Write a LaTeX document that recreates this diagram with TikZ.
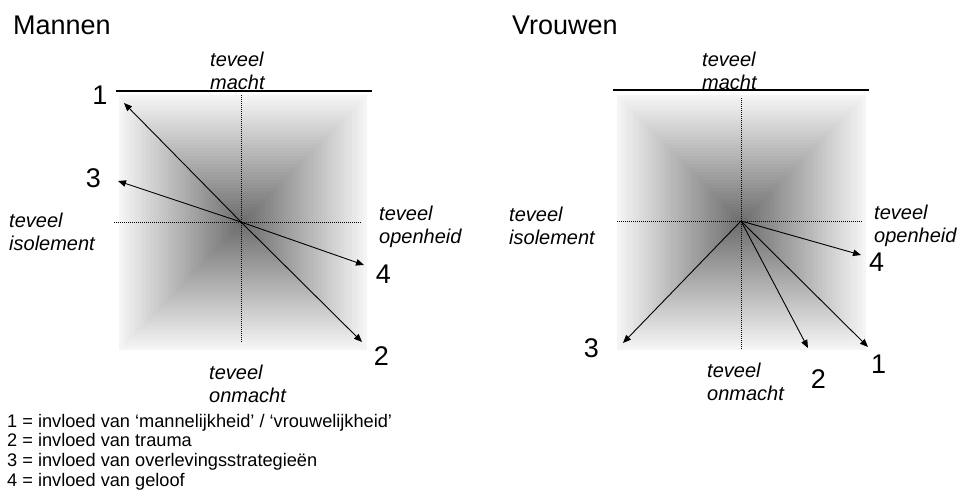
\documentclass[tikz,border=0pt]{standalone}
\usepackage{fontspec}
\setmainfont{Liberation Sans}
\usetikzlibrary{arrows.meta}
\begin{document}
\begin{tikzpicture}[x=1pt,y=-1pt,
  title/.style={font=\fontsize{27}{30}\selectfont, inner sep=0, anchor=base west},
  axislbl/.style={font=\fontsize{20}{23}\selectfont\itshape, inner sep=0, anchor=north west, align=left},
  num/.style={font=\fontsize{27}{30}\selectfont, inner sep=0},
  axisline/.style={line width=0.8pt, dash pattern=on 1pt off 1pt},
  topline/.style={line width=1.1pt},
  arr/.style={line width=0.9pt, -{Triangle[length=8pt,width=6.5pt]}},
  legend/.style={font=\fontsize{18.2}{19.6}\selectfont, inner sep=0, anchor=north west, align=left}
]
\useasboundingbox (0,0) rectangle (959,495);

% gradient squares
\foreach \cx/\cy/\hw/\hh in {243/222.5/124/127.5, 741.5/222.5/124.5/127.5} {
  \foreach \i in {0,...,47} {
    \pgfmathsetmacro\s{1-\i/48}
    \pgfmathsetmacro\p{4+53*\i/47}
    \fill[black!\p] ({\cx-\hw*\s},{\cy-\hh*\s}) rectangle ({\cx+\hw*\s},{\cy+\hh*\s});
  }
}

% ---------- Mannen ----------
\node[title] (tM) at (13,35) {Mannen};
\draw[topline] (116,91) -- (372,91);
\draw[axisline] (241,95) -- (241,343);
\draw[axisline] (114,222) -- (362,222);
\coordinate (cM) at (241,222);
\coordinate (M1) at (124,103);
\coordinate (M3) at (118,181);
\coordinate (M4) at (364,265);
\coordinate (M2) at (362,342);
\draw[arr] (cM) -- (M1);
\draw[arr] (cM) -- (M3);
\draw[arr] (cM) -- (M4);
\draw[arr] (cM) -- (M2);
\node[num] (nM1) at (100,95.5) {1};
\node[num] (nM3) at (93.5,178) {3};
\node[num] (nM4) at (383.5,274.5) {4};
\node[num] (nM2) at (381.5,356) {2};
\node[axislbl] (aMt) at (210,52) {teveel\\macht};
\node[axislbl] (aMl) at (9,213) {teveel\\isolement};
\node[axislbl] (aMr) at (379,206) {teveel\\openheid};
\node[axislbl] (aMb) at (209,365) {teveel\\onmacht};

% ---------- Vrouwen ----------
\node[title] (tV) at (512,35) {Vrouwen};
\draw[topline] (613,90) -- (869,90);
\draw[axisline] (741,98) -- (741,350);
\draw[axisline] (617,221) -- (863,221);
\coordinate (cV) at (741,221);
\coordinate (V3) at (623,343);
\coordinate (V2) at (808,348);
\coordinate (V1) at (868,347);
\coordinate (V4) at (861,255);
\draw[arr] (cV) -- (V3);
\draw[arr] (cV) -- (V2);
\draw[arr] (cV) -- (V1);
\draw[arr] (cV) -- (V4);
\node[num] (nV3) at (591.5,348.5) {3};
\node[num] (nV2) at (818.5,379) {2};
\node[num] (nV1) at (878.5,364) {1};
\node[num] (nV4) at (876.5,262.5) {4};
\node[axislbl] (aVt) at (702,52) {teveel\\macht};
\node[axislbl] (aVl) at (509,207) {teveel\\isolement};
\node[axislbl] (aVr) at (874,205) {teveel\\openheid};
\node[axislbl] (aVb) at (707,363) {teveel\\onmacht};

% ---------- legend ----------
\node[legend] (leg) at (7,414) {1 = invloed van ‘mannelijkheid’ / ‘vrouwelijkheid’\\
2 = invloed van trauma\\
3 = invloed van overlevingsstrategieën\\
4 = invloed van geloof};
\end{tikzpicture}
\end{document}
